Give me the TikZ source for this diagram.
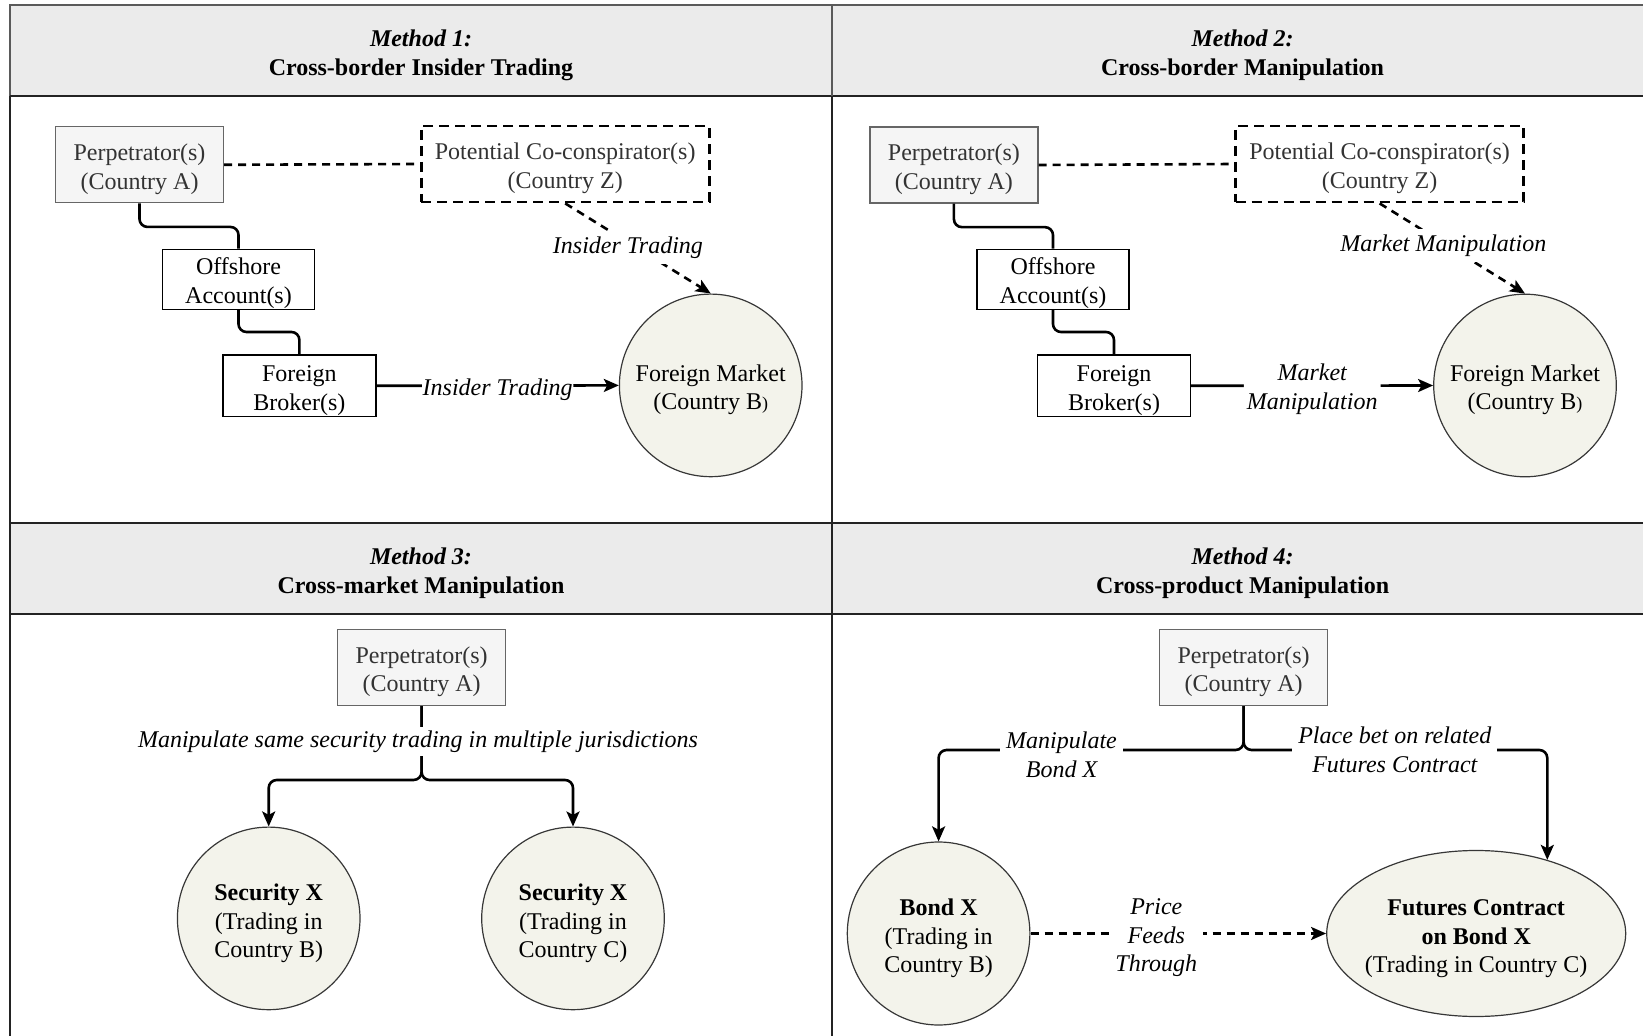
\documentclass[tikz,border=0pt]{standalone}
\usepackage{fontspec}
\setmainfont{Liberation Serif}
\usetikzlibrary{arrows.meta,shapes.geometric}

\definecolor{headfill}{RGB}{235,235,235}
\definecolor{perpfill}{RGB}{245,245,245}
\definecolor{perpline}{RGB}{102,102,102}
\definecolor{perptext}{RGB}{51,51,51}
\definecolor{mktfill}{RGB}{243,243,235}
\definecolor{framecol}{RGB}{35,35,35}
\definecolor{ovalline}{RGB}{55,55,55}

% small closing parenthesis used in the market labels
\newcommand{\smallclose}{{\fontsize{9}{10}\selectfont)}}
% invisible strut that gives the first text line some extra head room
\newcommand{\lift}[1][12.5pt]{\rule{0pt}{#1}}

\begin{document}
\begin{tikzpicture}[x=0.5pt,y=-0.5pt,
  every node/.style={font=\fontsize{12}{14.3}\selectfont, align=center, inner sep=0pt},
  head/.style={font=\fontsize{12}{14.6}\selectfont\bfseries},
  perp/.style={draw=perpline, fill=perpfill, text=perptext, line width=0.65pt,
    minimum width=84pt, minimum height=38pt},
  cocon/.style={draw, dash pattern=on 5pt off 3pt, line width=1.4pt, text=perptext,
    minimum width=144pt, minimum height=38pt},
  plainbox/.style={draw, line width=0.7pt, minimum width=76pt, minimum height=30pt},
  market/.style={circle, draw=ovalline, line width=0.6pt, fill=mktfill, minimum size=91.3pt},
  oval/.style={ellipse, draw=ovalline, line width=0.6pt, fill=mktfill},
  link/.style={line width=1.3pt, rounded corners=4pt},
  tip/.style={-{Stealth[length=7.5pt,width=6.5pt,inset=1.7pt]}},
  arr/.style={link, tip},
  dashlink/.style={line width=1.3pt, dash pattern=on 4pt off 3pt},
  tag/.style={fill=white, font=\fontsize{12}{14.3}\selectfont\itshape, inner xsep=1.5pt, inner ysep=1pt}
]
\useasboundingbox (0,0) rectangle (1643,1036);
\begin{scope}
\clip (0,0) rectangle (1643,1036);

% panel grid and header bands
\fill[headfill] (10,5) rectangle (1700,96);
\fill[headfill] (10,523) rectangle (1700,614);
\draw[framecol!75, line width=1pt] (1700,5) -- (10,5) -- (10,96);
\draw[framecol, line width=1pt] (10,96) -- (10,1100);
\draw[framecol, line width=1pt] (10,96) -- (1700,96);
\draw[framecol, line width=1pt] (10,523) -- (1700,523);
\draw[framecol, line width=1pt] (10,614) -- (1700,614);
\draw[framecol!75, line width=1pt] (832,5) -- (832,96);
\draw[framecol, line width=1pt] (832,96) -- (832,1100);

% headings
\node[head] (h1) at (421,52.3) {\lift[11.5pt]\textit{Method 1:}\\Cross-border Insider Trading};
\node[head] (h2) at (1242.6,52.3) {\lift[11.5pt]\textit{Method 2:}\\Cross-border Manipulation};
\node[head] (h3) at (421,570) {\lift[11.5pt]\textit{Method 3:}\\Cross-market Manipulation};
\node[head] (h4) at (1242.6,570) {\lift[11.5pt]\textit{Method 4:}\\Cross-product Manipulation};

% ---- Method 1
\node[perp] (p1a) at (139.5,164.8) {\lift Perpetrator(s)\\(Country A)};
\node[cocon] (p1z) at (565.2,164) {\lift Potential Co-conspirator(s)\\(Country Z)};
\node[plainbox] (p1o) at (238.5,279.3) {\lift Offshore\\Account(s)};
\node[plainbox, minimum width=76.5pt, minimum height=30.75pt] (p1b) at (299.4,385.8) {\lift Foreign\\Broker(s)};
\node[market] (p1m) at (710.7,385.4) {\lift Foreign Market\\(Country B\smallclose};

\draw[dashlink] (p1a.east) -- (p1z.west);
\draw[link] (p1a.south) -- ++(0,23.5) -| (p1o.north);
\draw[link] (p1o.south) -- ++(0,22) -| (p1b.north);
\draw[arr] (p1b.east) -- (p1m.west)
  node[tag, midway, inner xsep=0.3pt, yshift=-2pt] {Insider Trading};
\draw[dashlink, tip] (p1z.south) -- (p1m.north)
  node[tag, midway, inner sep=3pt, xshift=-5pt, yshift=0.5pt] {Insider Trading};

% ---- Method 2
\node[perp] (p2a) at (953.9,165) {\lift Perpetrator(s)\\(Country A)};
\node[cocon] (p2z) at (1379.6,164) {\lift Potential Co-conspirator(s)\\(Country Z)};
\node[plainbox] (p2o) at (1053,279.3) {\lift Offshore\\Account(s)};
\node[plainbox, minimum width=76.5pt, minimum height=30.75pt] (p2b) at (1114,385.8) {\lift Foreign\\Broker(s)};
\node[market] (p2m) at (1525,385.5) {\lift Foreign Market\\(Country B\smallclose};

\draw[dashlink] (p2a.east) -- (p2z.west);
\draw[link] (p2a.south) -- ++(0,23.5) -| (p2o.north);
\draw[link] (p2o.south) -- ++(0,22) -| (p2b.north);
\draw[arr] (p2b.east) -- (p2m.west)
  node[tag, midway, yshift=-1.8pt] {Market\\Manipulation};
\draw[dashlink, tip] (p2z.south) -- (p2m.north)
  node[tag, midway, inner sep=3pt, xshift=-4.5pt, yshift=1.5pt] {Market Manipulation};

% ---- Method 3
\node[perp] (p3a) at (421.6,667.4) {\lift Perpetrator(s)\\(Country A)};
\node[market] (p3b) at (268.7,918.4) {\lift[13.2pt]\textbf{Security X}\\(Trading in\\Country B)};
\node[market] (p3c) at (573,918.4) {\lift[13.2pt]\textbf{Security X}\\(Trading in\\Country C)};
\coordinate (p3j) at (421.6,780);
\draw[arr] (p3a.south) -- (p3j) -| (p3b.north);
\draw[arr] (p3a.south) -- (p3j) -| (p3c.north);
\node[tag, inner xsep=3pt, inner ysep=2pt] (p3t) at (418,741.5)
  {Manipulate same security trading in multiple jurisdictions};

% ---- Method 4
\node[perp] (p4a) at (1243.6,667.4) {\lift Perpetrator(s)\\(Country A)};
\node[oval, minimum width=91.3pt, minimum height=91.5pt] (p4b) at (938.6,933.5)
  {\lift[13.4pt]\textbf{Bond X}\\(Trading in\\Country B)};
\node[oval, minimum width=149.5pt, minimum height=83pt,
  label={[align=center]center:{\lift[13.4pt]\textbf{Futures Contract}\\\textbf{on Bond X}\\(Trading in Country C)}}]
  (p4f) at (1476.2,933.5) {};
\coordinate (p4j) at (1243.6,750);
\draw[arr] (p4a.south) -- (p4j) -| (p4b.north);
\draw[arr] (p4a.south) -- (p4j) -- (p4f.46.4 |- p4j) -- (p4f.46.4);
\node[tag, inner xsep=3pt] (p4l) at (1061.5,755) {Manipulate\\Bond X};
\node[tag, inner xsep=3pt] (p4r) at (1394.8,750) {Place bet on related\\Futures Contract};
\draw[dashlink, tip] (p4b.east) -- (p4f.west)
  node[tag, midway, inner xsep=3pt, xshift=-11pt, yshift=-2.2pt] {Price\\Feeds\\Through};
\end{scope}
\end{tikzpicture}
\end{document}
